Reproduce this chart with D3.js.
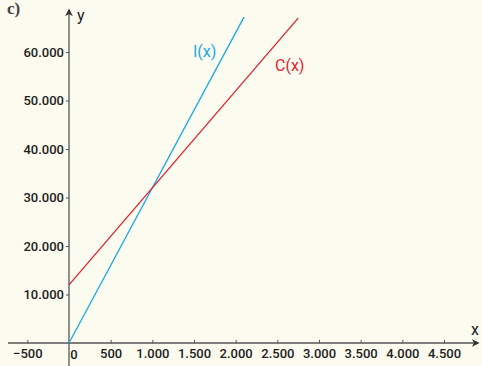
<!DOCTYPE html>
<html>
<head>
<meta charset="utf-8">
<script src="https://cdn.jsdelivr.net/npm/d3@7"></script>
<style>
  body { margin: 0; background: #fcfbef; }
  svg { display: block; }
  text { font-family: "Roboto", sans-serif; fill: #222; }
</style>
</head>
<body>
<div id="chart"></div>
<script>
// tick values
const xTicks = [-500, 0, 500, 1000, 1500, 2000, 2500, 3000, 3500, 4000, 4500];
const yTicks = [10000, 20000, 30000, 40000, 50000, 60000];
// line end points (x, y)
const incomeLine = [[0, 0], [2100, 67200]];
const costLine = [[0, 12000], [2750, 67000]];

const WIDTH = 482, HEIGHT = 366;
const svg = d3.select("#chart").append("svg")
    .attr("width", WIDTH)
    .attr("height", HEIGHT);

const x = d3.scaleLinear().domain([0, 4500]).range([69, 444]);
const y = d3.scaleLinear().domain([0, 60000]).range([343, 52]);

const fmt = d => d3.format(",")(d).replace(/,/g, ".");

// arrow marker
svg.append("defs").append("marker")
    .attr("id", "arrow")
    .attr("viewBox", "0 0 10 10")
    .attr("refX", 8).attr("refY", 5)
    .attr("markerWidth", 6).attr("markerHeight", 6)
    .attr("orient", "auto")
    .append("path")
    .attr("d", "M0,0 L10,5 L0,10 L3,5 Z")
    .attr("fill", "#333");

// axes lines
svg.append("line")
    .attr("x1", 8).attr("x2", 478)
    .attr("y1", y(0)).attr("y2", y(0))
    .attr("stroke", "#555").attr("stroke-width", 1.3)
    .attr("marker-end", "url(#arrow)");
svg.append("line")
    .attr("x1", x(0)).attr("x2", x(0))
    .attr("y1", HEIGHT).attr("y2", 10)
    .attr("stroke", "#555").attr("stroke-width", 1.3)
    .attr("marker-end", "url(#arrow)");

// x ticks
const xg = svg.append("g").attr("transform", `translate(0, ${y(0)})`)
    .call(d3.axisBottom(x).tickValues(xTicks.filter(d => d !== 0)).tickSize(3).tickFormat(fmt));
xg.select(".domain").remove();
xg.selectAll("line").attr("stroke", "#555").attr("y1", -3).attr("y2", 0);
xg.selectAll("text").attr("font-size", 13).attr("font-weight", 500).attr("y", 6).attr("fill", "#222");
svg.append("text").attr("x", x(0) + 5).attr("y", 359)
    .attr("font-size", 13).attr("font-weight", 500).attr("text-anchor", "middle").text("0");

// y ticks
const yg = svg.append("g").attr("transform", `translate(${x(0)}, 0)`)
    .call(d3.axisLeft(y).tickValues(yTicks).tickSize(3).tickFormat(fmt));
yg.select(".domain").remove();
yg.selectAll("line").attr("stroke", "#555");
yg.selectAll("text").attr("font-size", 13).attr("font-weight", 500).attr("x", -5).attr("fill", "#222");

// lines
const line = d3.line().x(d => x(d[0])).y(d => y(d[1]));
svg.append("path").attr("d", line(incomeLine))
    .attr("fill", "none").attr("stroke", "#1aa9e6").attr("stroke-width", 1.3);
svg.append("path").attr("d", line(costLine))
    .attr("fill", "none").attr("stroke", "#e8202e").attr("stroke-width", 1.3);

// labels
svg.append("text").attr("x", 193).attr("y", 57).attr("font-size", 16)
    .style("fill", "#1aa9e6").text("I(x)");
svg.append("text").attr("x", 275).attr("y", 71).attr("font-size", 16)
    .style("fill", "#e8202e").text("C(x)");
svg.append("text").attr("x", 77).attr("y", 21).attr("font-size", 16).text("y");
svg.append("text").attr("x", 471).attr("y", 335).attr("font-size", 16).text("x");
svg.append("text").attr("x", 7).attr("y", 14).attr("font-size", 17)
    .attr("font-weight", "bold").style("font-family", "Liberation Serif, serif").style("fill", "#444").text("c)");
</script>
</body>
</html>
